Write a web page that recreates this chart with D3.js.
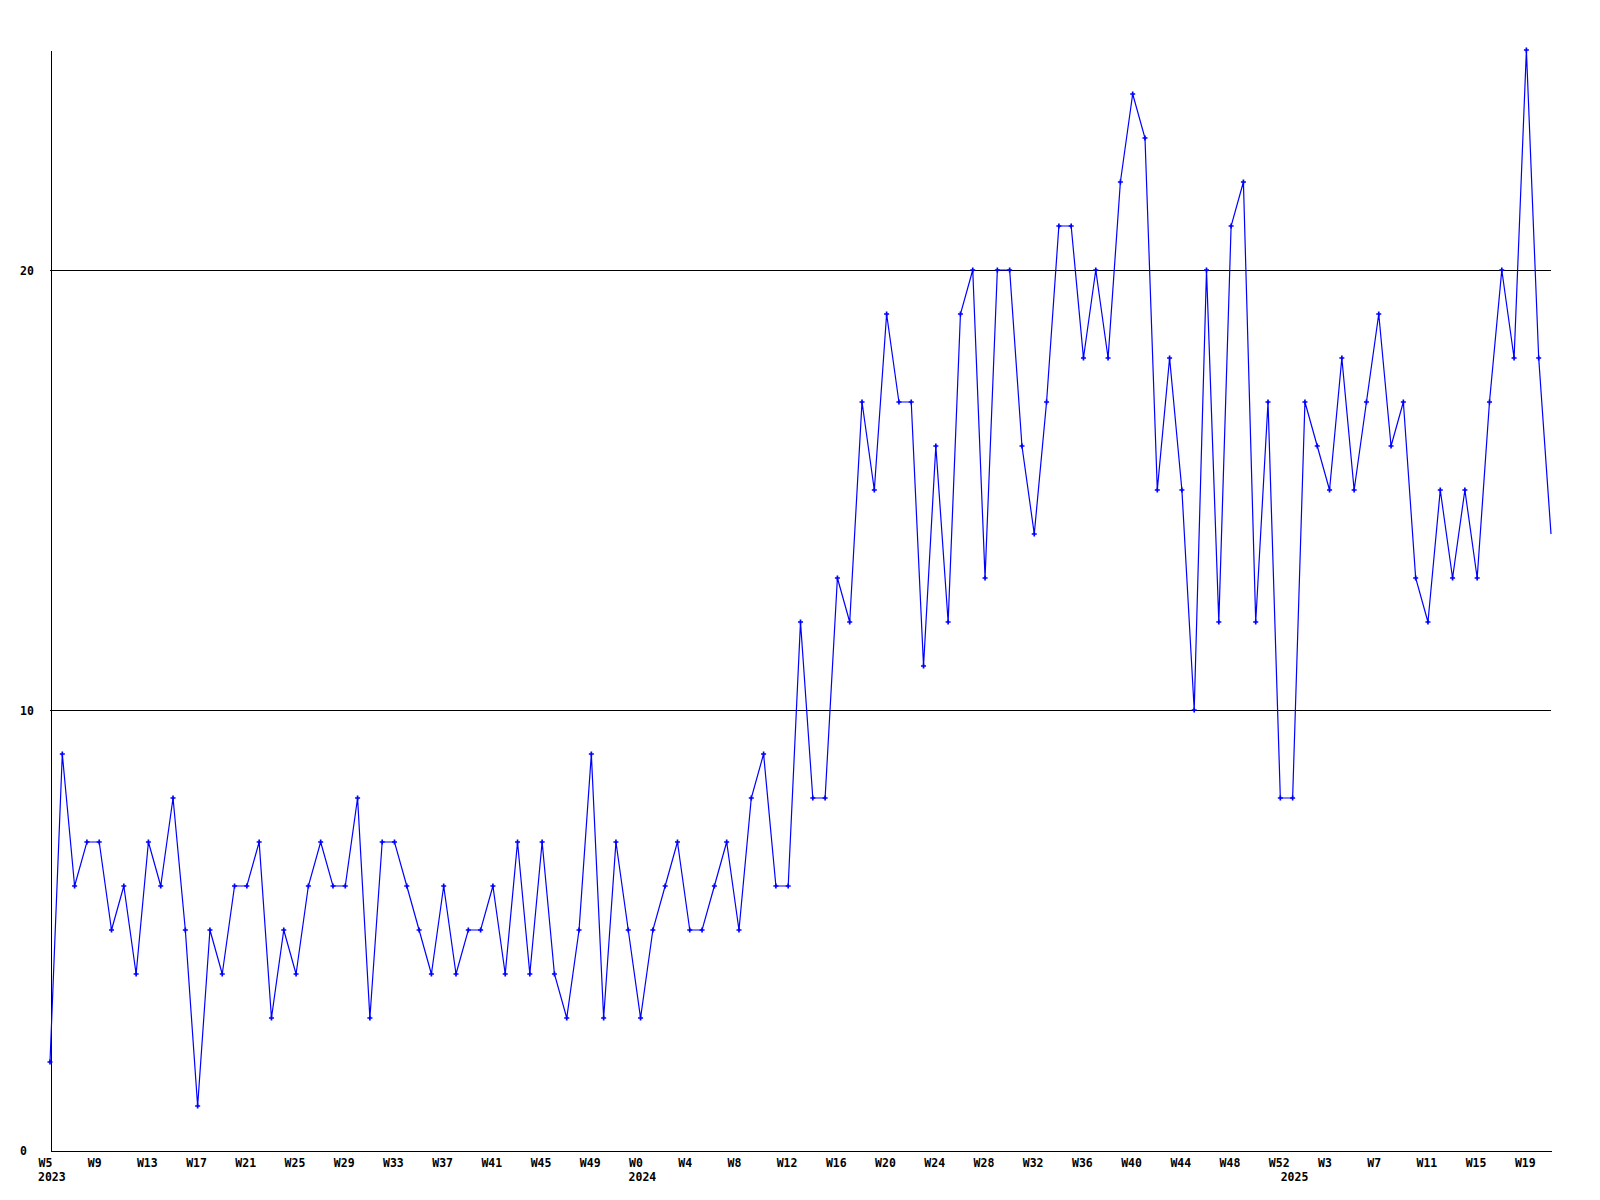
<!DOCTYPE html>
<html>
<head>
<meta charset="utf-8">
<script src="https://cdn.jsdelivr.net/npm/d3@7"></script>
<style>
  html, body { margin: 0; padding: 0; background: #ffffff; }
  svg { display: block; }
  text { font-family: "DejaVu Sans Mono", "Liberation Mono", monospace; font-weight: bold; font-size: 11.5px; fill: #000; }
</style>
</head>
<body>
<svg id="chart" width="1600" height="1200"></svg>
<script>
// ---- Data ----
const years = ["2023", "2024", "2025"];
const weeks2023 = ["W5","W6","W7","W8","W9","W10","W11","W12","W13","W14","W15","W16","W17","W18","W19","W20","W21","W22","W23","W24","W25","W26","W27","W28","W29","W30","W31","W32","W33","W34","W35","W36","W37","W38","W39","W40","W41","W42","W43","W44","W45","W46","W47","W48","W49","W50","W51","W52"];
const weeks2024 = ["W0","W1","W2","W3","W4","W5","W6","W7","W8","W9","W10","W11","W12","W13","W14","W15","W16","W17","W18","W19","W20","W21","W22","W23","W24","W25","W26","W27","W28","W29","W30","W31","W32","W33","W34","W35","W36","W37","W38","W39","W40","W41","W42","W43","W44","W45","W46","W47","W48","W49","W50","W51","W52"];
const weeks2025 = ["W0","W1","W2","W3","W4","W5","W6","W7","W8","W9","W10","W11","W12","W13","W14","W15","W16","W17","W18","W19","W20","W21"];
const values = [
  2,9,6,7,7,5,6,4,7,6,
  8,5,1,5,4,6,6,7,3,5,
  4,6,7,6,6,8,3,7,7,6,
  5,4,6,4,5,5,6,4,7,4,
  7,4,3,5,9,3,7,5,3,5,
  6,7,5,5,6,7,5,8,9,6,
  6,12,8,8,13,12,17,15,19,17,
  17,11,16,12,19,20,13,20,20,16,
  14,17,21,21,18,20,18,22,24,23,
  15,18,15,10,20,12,21,22,12,17,
  8,8,17,16,15,18,15,17,19,16,
  17,13,12,15,13,15,13,17,20,18,
  25,18,14
];
const yTicks = [0, 10, 20];
const yGrid = [10, 20];
const yMax = 25;
const labelEvery = 4;

(function draw() {
  // ---- Derived ----
  const yearBlocks = [weeks2023, weeks2024, weeks2025];
  const categories = [];
  const yearStarts = [];
  yearBlocks.forEach((blk, bi) => {
    yearStarts.push({ idx: categories.length, label: years[bi] });
    blk.forEach(w => categories.push(w));
  });
  const idx = d3.range(values.length);

  // ---- Layout ----
  const pL = 50, pR = 1551, pT = 50, pB = 1150;
  const svg = d3.select("#chart");

  const x = d3.scalePoint().domain(idx).range([pL, pR]);
  const y = d3.scaleLinear().domain([0, yMax]).range([pB, pT]);

  // gridlines
  svg.append("g").selectAll("line").data(yGrid).join("line")
    .attr("x1", pL).attr("x2", pR)
    .attr("y1", d => Math.round(y(d)) + 0.5).attr("y2", d => Math.round(y(d)) + 0.5)
    .attr("stroke", "#000").attr("stroke-width", 1)
    .attr("shape-rendering", "crispEdges");

  // x axis
  const tickIdx = idx.filter(i => i % labelEvery === 0);
  const gx = svg.append("g")
    .attr("transform", `translate(0,${pB + 0.5})`)
    .call(d3.axisBottom(x).tickValues(tickIdx).tickFormat(i => categories[i]).tickSize(0).tickSizeOuter(0));
  gx.attr("font-family", null).attr("font-size", null);
  gx.select(".domain").attr("stroke", "#000").attr("shape-rendering", "crispEdges");
  gx.selectAll(".tick text")
    .attr("text-anchor", "start")
    .attr("x", -12).attr("y", 16).attr("dy", 0);

  // year labels
  svg.append("g").selectAll("text").data(yearStarts).join("text")
    .attr("x", d => x(d.idx) - 12)
    .attr("y", pB + 31)
    .attr("text-anchor", "start")
    .text(d => d.label);

  // y axis
  const gy = svg.append("g")
    .attr("transform", `translate(${pL + 0.5},0)`)
    .call(d3.axisLeft(y).tickValues(yTicks).tickFormat(d3.format("d")).tickSize(0).tickSizeOuter(0));
  gy.attr("font-family", null).attr("font-size", null);
  gy.select(".domain").attr("stroke", "#000").attr("shape-rendering", "crispEdges");
  gy.selectAll(".tick text")
    .attr("text-anchor", "start")
    .attr("x", 20 - pL - 0.5).attr("dy", "0.36em");

  // data line
  const line = d3.line().x((d, i) => x(i)).y(d => y(d));
  svg.append("path")
    .datum(values)
    .attr("d", line)
    .attr("fill", "none")
    .attr("stroke", "#0000ff")
    .attr("stroke-width", 1.2);

  // markers (last point sits on the clipped edge, no marker)
  const cross = d3.symbol().type(d3.symbolCross).size(14);
  svg.append("g").selectAll("path").data(values.slice(0, values.length - 1)).join("path")
    .attr("transform", (d, i) => `translate(${x(i)},${y(d)})`)
    .attr("d", cross)
    .attr("fill", "#0000ff");
})();
</script>
</body>
</html>
